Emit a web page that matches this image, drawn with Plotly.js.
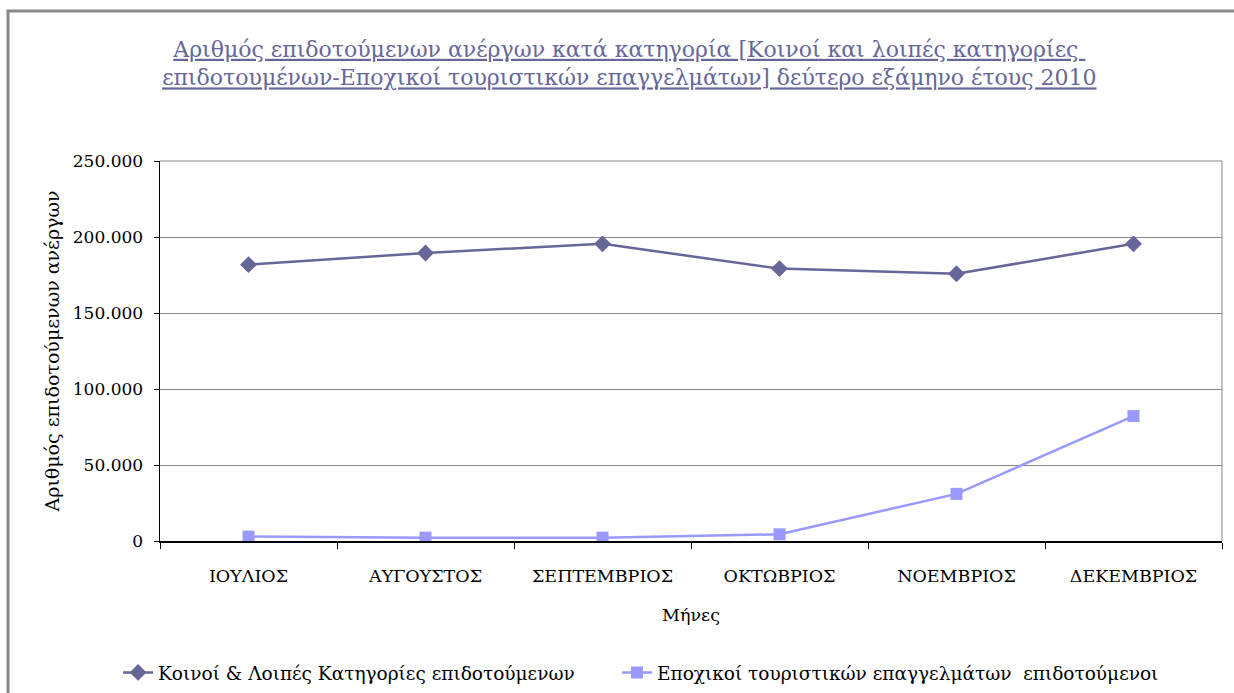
<!DOCTYPE html>
<html>
<head>
<meta charset="utf-8">
<script src="https://cdn.plot.ly/plotly-3.0.1.min.js"></script>
<style>html,body{margin:0;padding:0;background:#fff;}#chart{width:1234px;height:693px;}</style>
</head>
<body>
<div id="chart"></div>
<script>
const months = ["ΙΟΥΛΙΟΣ", "ΑΥΓΟΥΣΤΟΣ", "ΣΕΠΤΕΜΒΡΙΟΣ", "ΟΚΤΩΒΡΙΟΣ", "ΝΟΕΜΒΡΙΟΣ", "ΔΕΚΕΜΒΡΙΟΣ"];
const commonValues = [181800, 189500, 195500, 179200, 175800, 195500];
const seasonalValues = [2900, 2200, 2200, 4400, 31000, 82200];
const seriesNames = ["Κοινοί & Λοιπές Κατηγορίες επιδοτούμενων", "Εποχικοί τουριστικών επαγγελμάτων  επιδοτούμενοι"];
const yTicks = [0, 50000, 100000, 150000, 200000, 250000];

const FONT = "'DejaVu Serif', serif";

const traces = [
  {
    x: months, y: commonValues, name: seriesNames[0], type: "scatter", mode: "lines+markers",
    line: {color: "#666699", width: 2.5},
    marker: {symbol: "diamond", size: 13, color: "#666699"},
    legend: "legend"
  },
  {
    x: months, y: seasonalValues, name: seriesNames[1], type: "scatter", mode: "lines+markers",
    line: {color: "#9999FF", width: 2.5},
    marker: {symbol: "square", size: 12, color: "#9999FF"},
    legend: "legend2"
  }
];

const legendFont = {family: FONT, size: 18.5, color: "#000"};

const layout = {
  width: 1234, height: 693,
  margin: {l: 160, r: 12, t: 161, b: 152, autoexpand: false},
  paper_bgcolor: "#ffffff", plot_bgcolor: "#ffffff",
  separators: ",.",
  font: {family: FONT, size: 18, color: "#000"},
  showlegend: true,
  title: {
    text: "<u>Αριθμός επιδοτούμενων ανέργων κατά κατηγορία [Κοινοί και λοιπές κατηγορίες </u><br><u>επιδοτουμένων-Εποχικοί τουριστικών επαγγελμάτων] δεύτερο εξάμηνο έτους 2010</u>",
    font: {family: FONT, size: 22, color: "#666699"},
    x: 0.51, xanchor: "center", y: 0.918, yanchor: "middle"
  },
  xaxis: {
    type: "category", range: [-0.5, 5.5], tickson: "boundaries",
    ticks: "outside", ticklen: 6, tickcolor: "#000", tickwidth: 1,
    showline: true, linecolor: "#000", linewidth: 1.5,
    showgrid: false, zeroline: false, ticklabelstandoff: 18,
    tickfont: {family: FONT, size: 17.5, color: "#000"},
    title: {text: "Μήνες", font: {family: FONT, size: 17.5, color: "#000"}, standoff: 24}
  },
  yaxis: {
    range: [0, 250000], tickvals: yTicks, tickformat: ",d",
    ticks: "outside", ticklen: 5, tickcolor: "#000",
    showline: true, linecolor: "#000", linewidth: 1.5,
    showgrid: true, gridcolor: "#888888", gridwidth: 1, zeroline: false,
    ticklabelstandoff: 7,
    tickfont: {family: FONT, size: 17, color: "#000"},
    title: {text: "Αριθμός επιδοτούμενων ανέργων", font: {family: FONT, size: 19, color: "#000"}, standoff: 8}
  },
  legend: {
    orientation: "h", x: -0.0395, xanchor: "left", y: -0.347, yanchor: "middle",
    font: legendFont, bgcolor: "rgba(0,0,0,0)"
  },
  legend2: {
    orientation: "h", x: 0.4303, xanchor: "left", y: -0.347, yanchor: "middle",
    font: legendFont, bgcolor: "rgba(0,0,0,0)"
  },
  shapes: [
    {type: "line", xref: "paper", yref: "paper", x0: 1, x1: 1, y0: 0, y1: 1, line: {color: "#888888", width: 1}},
    {type: "line", xref: "paper", yref: "paper", x0: 0, x1: 1, y0: 1, y1: 1, line: {color: "#888888", width: 1}},
    {type: "rect", xref: "paper", yref: "paper", x0: -0.1431, x1: 1.02, y0: 1.395, y1: -0.43, line: {color: "#888888", width: 3}, fillcolor: "rgba(0,0,0,0)", layer: "below"}
  ]
};

Plotly.newPlot("chart", traces, layout, {displayModeBar: false, staticPlot: true});
</script>
</body>
</html>
